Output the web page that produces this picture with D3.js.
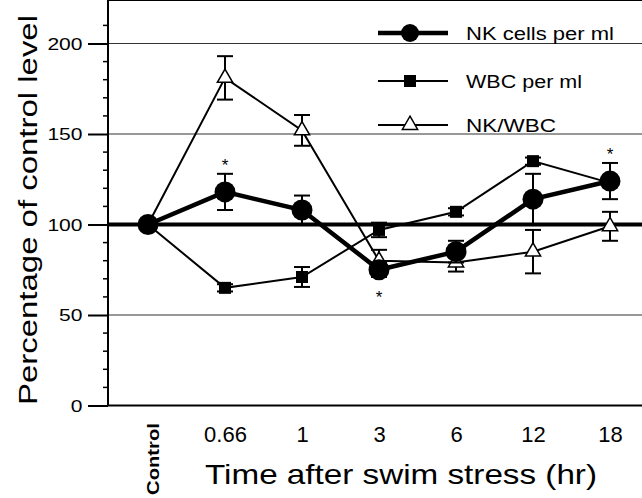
<!DOCTYPE html>
<html>
<head>
<meta charset="utf-8">
<script src="https://cdn.jsdelivr.net/npm/d3@7"></script>
<style>
body { margin: 0; background: #fff; }
svg { display: block; font-family: "Liberation Sans", Arial, Helvetica, sans-serif; }
</style>
</head>
<body>
<svg id="chart" width="642" height="498"></svg>
<script>
// time points (x categories)
var categories = ["Control", "0.66", "1", "3", "6", "12", "18"];

// NK cells per ml (% of control)
var nkMean = [100, 118, 108, 75, 85, 114, 124];
var nkErr  = [0, 10, 8, 4, 6, 14, 10];

// WBC per ml
var wbcMean = [100, 65, 71, 97, 107, 135, 123];
var wbcErr  = [0, 2, 5.5, 4, 2, 2, 2];

// NK/WBC ratio
var ratioMean = [100, 181, 152, 80, 79, 85, 99];
var ratioErr  = [0, 12, 8.5, 6, 5, 12, 8];

// significance marks
var starCats = ["0.66", "3", "18"];
var starSide = ["above", "below", "above"];

var yMajor = [0, 50, 100, 150, 200];
var yMinor = [10, 20, 30, 40, 60, 70, 80, 90, 110, 120, 130, 140, 160, 170, 180, 190, 210];
var gridVals = [50, 150, 200];

var svg = d3.select("#chart"),
    left = 108, right = 642, top = 6;

var x = d3.scalePoint().domain(categories).range([148, 610]);
var y = d3.scaleLinear().domain([0, 220]).range([405.5, 7.3]);

// grid lines
svg.selectAll(".grid")
  .data(gridVals)
  .enter().append("line")
    .attr("class", "grid")
    .attr("x1", left).attr("x2", right)
    .attr("y1", function(d) { return y(d); })
    .attr("y2", function(d) { return y(d); })
    .attr("stroke", "#333")
    .attr("stroke-width", 1.2);

// control level line
svg.append("line")
  .attr("x1", left).attr("x2", right)
  .attr("y1", y(100)).attr("y2", y(100))
  .attr("stroke", "#000")
  .attr("stroke-width", 4);

// frame: top and bottom
svg.append("line")
  .attr("x1", left).attr("x2", right)
  .attr("y1", top).attr("y2", top)
  .attr("stroke", "#000").attr("stroke-width", 2);
svg.append("line")
  .attr("x1", left).attr("x2", right)
  .attr("y1", y(0)).attr("y2", y(0))
  .attr("stroke", "#000").attr("stroke-width", 2);

// y axis
var yAxis = svg.append("g")
  .attr("transform", "translate(" + left + ",0)")
  .call(d3.axisLeft(y).tickValues(yMajor).tickSize(20).tickFormat(""));
yAxis.select(".domain").remove();
yAxis.append("line")
  .attr("x1", 0).attr("x2", 0)
  .attr("y1", top).attr("y2", y(0))
  .attr("stroke", "#000").attr("stroke-width", 2);
yAxis.selectAll(".tick line").attr("stroke-width", 2);
yAxis.selectAll(".minor")
  .data(yMinor)
  .enter().append("line")
    .attr("class", "minor")
    .attr("x1", -5).attr("x2", 0)
    .attr("y1", function(d) { return y(d); })
    .attr("y2", function(d) { return y(d); })
    .attr("stroke", "#000").attr("stroke-width", 1.5);

// y tick labels (wide Helvetica look)
svg.selectAll(".ylab")
  .data(yMajor)
  .enter().append("text")
    .attr("class", "ylab")
    .attr("x", 82.5)
    .attr("y", function(d) { return y(d) + 6; })
    .attr("text-anchor", "end")
    .attr("font-size", 16.5)
    .attr("textLength", function(d) { return String(d).length * 11.7; })
    .attr("lengthAdjust", "spacingAndGlyphs")
    .text(function(d) { return d; });

// x axis labels
var xAxis = svg.append("g")
  .attr("transform", "translate(0," + y(0) + ")")
  .call(d3.axisBottom(x).tickSize(0).tickPadding(0)
    .tickFormat(function(d) { return d === "Control" ? "" : d; }));
xAxis.select(".domain").remove();
xAxis.selectAll(".tick text")
  .attr("y", 36)
  .attr("dy", 0)
  .style("font-size", "22px")
  .style("font-family", "'Liberation Sans', Arial, sans-serif")
  .attr("fill", "#000");

svg.append("text")
  .attr("transform", "translate(" + (x("Control") + 10.5) + ",459) rotate(-90)")
  .attr("text-anchor", "middle")
  .attr("font-size", 17)
  .attr("font-weight", "bold")
  .attr("textLength", 72)
  .attr("lengthAdjust", "spacingAndGlyphs")
  .text("Control");

// axis titles
svg.append("text")
  .attr("x", 401).attr("y", 483.5)
  .attr("text-anchor", "middle")
  .attr("font-size", 28)
  .attr("textLength", 392)
  .attr("lengthAdjust", "spacingAndGlyphs")
  .text("Time after swim stress (hr)");

svg.append("text")
  .attr("transform", "translate(37,210) rotate(-90)")
  .attr("text-anchor", "middle")
  .attr("font-size", 26)
  .attr("textLength", 390)
  .attr("lengthAdjust", "spacingAndGlyphs")
  .text("Percentage of control level");

// series
var series = [
  { name: "NK/WBC", mean: ratioMean, err: ratioErr, width: 2, marker: "triangle" },
  { name: "WBC per ml", mean: wbcMean, err: wbcErr, width: 2, marker: "square" },
  { name: "NK cells per ml", mean: nkMean, err: nkErr, width: 4.5, marker: "circle" }
];

var line = d3.line()
  .x(function(d) { return x(d.cat); })
  .y(function(d) { return y(d.v); });

function pointsOf(s) {
  return categories.map(function(c, i) { return { cat: c, v: s.mean[i], e: s.err[i] }; });
}

function drawMarker(g, type, size) {
  if (type === "circle") {
    g.append("circle").attr("r", size).attr("fill", "#000");
  } else if (type === "square") {
    g.append("rect")
      .attr("x", -size / 2).attr("y", -size / 2)
      .attr("width", size).attr("height", size)
      .attr("fill", "#000");
  } else {
    g.append("path")
      .attr("d", d3.symbol().type(d3.symbolTriangle).size(size * size * 0.45)())
      .attr("fill", "#fff")
      .attr("stroke", "#000")
      .attr("stroke-width", 1.5);
  }
}

var markerSize = { circle: 10.5, square: 12, triangle: 15 };

series.forEach(function(s) {
  var pts = pointsOf(s);
  var g = svg.append("g");

  g.append("path")
    .datum(pts)
    .attr("d", line)
    .attr("fill", "none")
    .attr("stroke", "#000")
    .attr("stroke-width", s.width);

  var eb = g.selectAll(".err")
    .data(pts.filter(function(d) { return d.e > 0; }))
    .enter().append("g")
      .attr("class", "err")
      .attr("transform", function(d) { return "translate(" + x(d.cat) + ",0)"; });
  eb.append("line")
    .attr("y1", function(d) { return y(d.v - d.e); })
    .attr("y2", function(d) { return y(d.v + d.e); })
    .attr("stroke", "#000").attr("stroke-width", 2);
  [1, -1].forEach(function(sign) {
    eb.append("line")
      .attr("x1", -8).attr("x2", 8)
      .attr("y1", function(d) { return y(d.v + sign * d.e); })
      .attr("y2", function(d) { return y(d.v + sign * d.e); })
      .attr("stroke", "#000").attr("stroke-width", 2);
  });

  g.selectAll(".pt")
    .data(pts)
    .enter().append("g")
      .attr("class", "pt")
      .attr("transform", function(d) { return "translate(" + x(d.cat) + "," + y(d.v) + ")"; })
      .each(function() { drawMarker(d3.select(this), s.marker, markerSize[s.marker]); });
});

// asterisks on NK cells
starCats.forEach(function(c, k) {
  var i = categories.indexOf(c);
  var yy = starSide[k] === "above" ? y(nkMean[i] + nkErr[i]) - 3 : y(nkMean[i]) + 33;
  svg.append("text")
    .attr("x", x(c)).attr("y", yy)
    .attr("text-anchor", "middle")
    .attr("font-size", 17)
    .text("*");
});

// legend
var legend = svg.append("g");
legend.append("rect")
  .attr("x", 353).attr("y", top)
  .attr("width", 300).attr("height", 144 - top)
  .attr("fill", "#fff")
  .attr("stroke", "#000")
  .attr("stroke-width", 2);

var legendY = [33, 81, 125];
var legendLen = [148, 116, 90];
var legendOrder = [series[2], series[1], series[0]];

legendOrder.forEach(function(s, i) {
  var row = legend.append("g").attr("transform", "translate(0," + legendY[i] + ")");
  row.append("line")
    .attr("x1", 378).attr("x2", 448)
    .attr("stroke", "#000")
    .attr("stroke-width", s.width);
  var m = row.append("g").attr("transform", "translate(410,0)");
  drawMarker(m, s.marker, s.marker === "circle" ? 9 : markerSize[s.marker]);
  row.append("text")
    .attr("x", 466).attr("y", 6.5)
    .attr("font-size", 18)
    .attr("textLength", legendLen[i])
    .attr("lengthAdjust", "spacingAndGlyphs")
    .text(s.name);
});
</script>
</body>
</html>
